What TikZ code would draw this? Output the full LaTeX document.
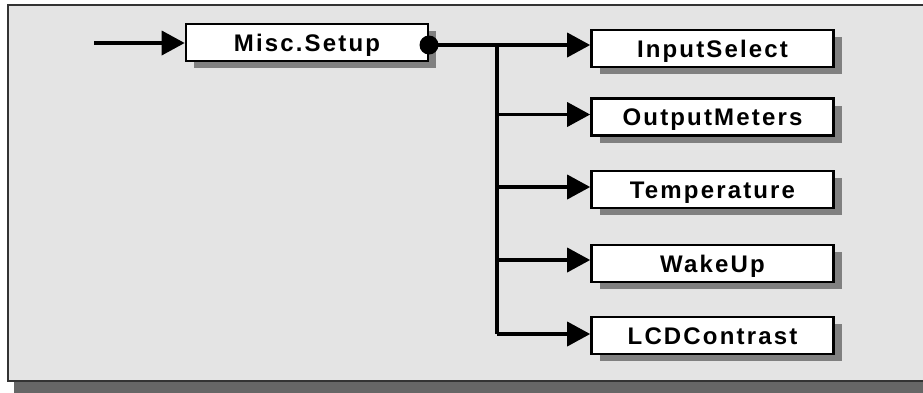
\documentclass[tikz,border=0pt]{standalone}
\usepackage{fontspec}
\newfontfamily\lblfont[LetterSpace=9]{Liberation Sans}
\usetikzlibrary{arrows.meta,shadows}
\definecolor{panel}{HTML}{E4E4E4}
\definecolor{panelshadow}{HTML}{666666}
\definecolor{boxshadow}{HTML}{808080}
\tikzset{
  menubox/.style={draw=black, line width=2.6pt, fill=white, minimum width=242pt, minimum height=37pt,
    inner sep=0pt, text height=17pt, text depth=0pt,
    font=\lblfont\bfseries\fontsize{24}{24}\selectfont,
    general shadow={fill=boxshadow, shadow xshift=8pt, shadow yshift=-7pt}},
  conn/.style={line width=3.6pt},
  arr/.style={line width=3.6pt, -{Triangle[length=23pt,width=24pt]}},
}
\begin{document}
\begin{tikzpicture}[x=1pt,y=-1pt]
\useasboundingbox (0,0) rectangle (923,392);
% panel
\fill[panelshadow] (14,382) rectangle (935,395);
\draw[draw=black!80, line width=2pt, fill=panel] (8,4.5) rectangle (935,381);
% nodes
\node[menubox] (setup) at (307,42.5) {Misc.Setup};
\node[menubox] (in1) at (712.5,48.5) {InputSelect};
\node[menubox] (in2) at (712.5,117) {OutputMeters};
\node[menubox] (in3) at (712.5,189.5) {Temperature};
\node[menubox] (in4) at (712.5,263.5) {WakeUp};
\node[menubox] (in5) at (712.5,335.5) {LCDContrast};
\node[circle, fill=black, inner sep=0pt, minimum size=19pt] (dot) at (429,45) {};
% coordinates
\coordinate (src) at (94,43);
\coordinate (j1) at (497,45);
\coordinate (j2) at (497,114.5);
\coordinate (j3) at (497,187);
\coordinate (j4) at (497,260);
\coordinate (j5) at (497,334);
% connectors
\draw[arr] (src) -- (setup.west |- src);
\draw[arr] (dot.center) -- (in1.west |- dot.center);
\draw[conn] (j1) -- (j5);
\draw[arr] (j2) -- (in2.west |- j2);
\draw[arr] (j3) -- (in3.west |- j3);
\draw[arr] (j4) -- (in4.west |- j4);
\draw[arr] (j5) -- (in5.west |- j5);
\end{tikzpicture}
\end{document}
